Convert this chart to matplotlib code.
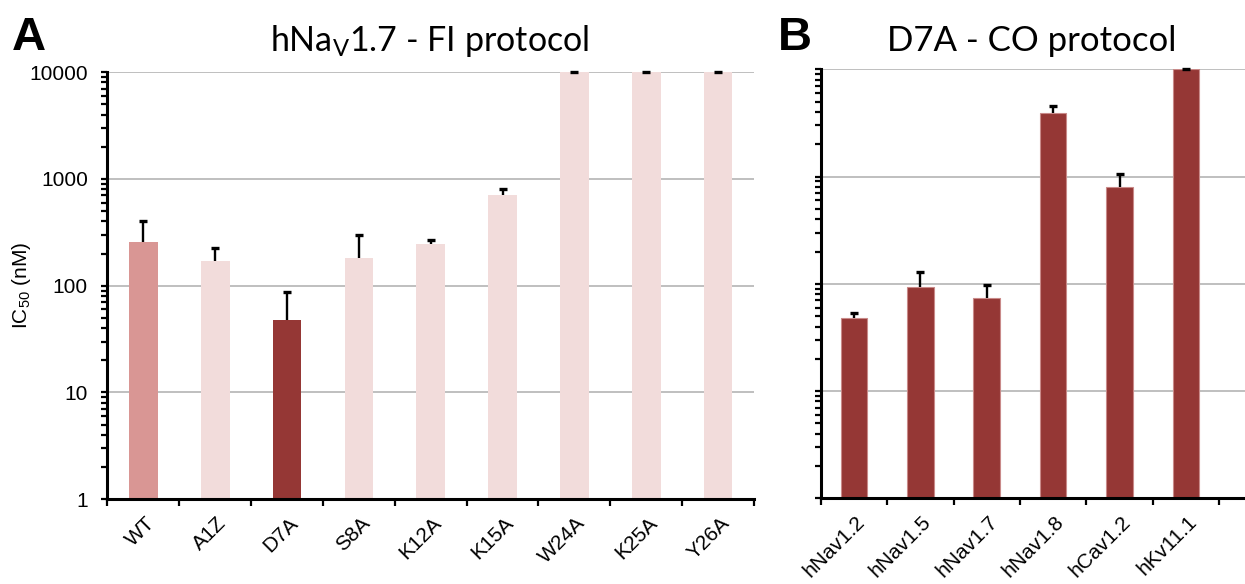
import numpy as np
import matplotlib
matplotlib.use("Agg")
import matplotlib.pyplot as plt
from matplotlib.ticker import LogLocator, NullFormatter, FixedLocator

# panel A: hNav1.7 FI protocol
mutants = ['WT', 'A1Z', 'D7A', 'S8A', 'K12A', 'K15A', 'W24A', 'K25A', 'Y26A']
ic50_a = [255, 170, 47.5, 180, 248, 707, 10000, 10000, 10000]
sd_a = [150, 53, 40, 117, 19, 93, 0, 0, 0]
colors_a = ['#D99694', '#F2DCDB', '#953735', '#F2DCDB', '#F2DCDB',
            '#F2DCDB', '#F2DCDB', '#F2DCDB', '#F2DCDB']

# panel B: D7A CO protocol
channels = ['hNav1.2', 'hNav1.5', 'hNav1.7', 'hNav1.8', 'hCav1.2', 'hKv11.1']
ic50_b = [48, 93, 73, 3955, 804, 10000]
sd_b = [5, 35, 25, 575, 251, 0]

plt.rcParams['mathtext.fontset'] = 'custom'
plt.rcParams['mathtext.rm'] = 'Lato'
plt.rcParams['mathtext.sf'] = 'Liberation Sans'
plt.rcParams['font.family'] = 'Liberation Sans'

fig = plt.figure(figsize=(12.45, 5.84), dpi=100)
ax_a = fig.add_axes([0.0863, 0.145, 0.5193, 0.7317])
ax_b = fig.add_axes([0.6592, 0.1467, 0.3408, 0.7346])


def style(ax, labels, n_show):
    ax.set_yscale('log')
    ax.set_ylim(1, 10000)
    ax.set_xlim(-0.5, n_show - 0.5)
    ax.grid(axis='y', which='major', color='#BFBFBF', linewidth=1.4)
    ax.set_axisbelow(True)
    for s in ['top', 'right']:
        ax.spines[s].set_visible(False)
    for s in ['left', 'bottom']:
        ax.spines[s].set_linewidth(2.2)
    ax.yaxis.set_minor_locator(LogLocator(base=10, subs=np.arange(2, 10)))
    ax.yaxis.set_minor_formatter(NullFormatter())
    ax.tick_params(axis='y', which='both', direction='out', length=4, width=1.6,
                   labelsize=15, pad=10)
    # boundaries get the ticks, labels hang from the bar centres
    ax.xaxis.set_major_locator(FixedLocator(np.arange(len(labels) + 1) - 0.5))
    ax.xaxis.set_minor_locator(FixedLocator(np.arange(len(labels)) + 0.02))
    ax.set_xticklabels([])
    ax.set_xticklabels(labels, minor=True, rotation=45, ha='right',
                       rotation_mode='anchor', fontsize=15)
    ax.tick_params(axis='x', which='major', direction='out', length=5, width=1.6)
    ax.tick_params(axis='x', which='minor', length=0, pad=10)


def upper_errors(ax, x, y, sd):
    _, caps, _ = ax.errorbar(x, y, yerr=[np.zeros(len(sd)), sd], fmt='none',
                             ecolor='black', elinewidth=1.7, capsize=3,
                             capthick=2.4, zorder=3, clip_on=False)
    caps[0].set_visible(False)  # only the upper whisker is shown


x_a = np.arange(len(mutants))
ax_a.bar(x_a, ic50_a, width=0.4, color=colors_a, zorder=2)
upper_errors(ax_a, x_a, ic50_a, sd_a)
style(ax_a, mutants, len(mutants))
ax_a.set_yticks([1, 10, 100, 1000, 10000])
ax_a.set_yticklabels(['1', '10', '100', '1000', '10000'])
ax_a.set_ylabel('IC$_\\mathsf{50}$ (nM)', fontsize=15)
ax_a.yaxis.set_label_coords(-0.115, 0.5)

x_b = np.arange(len(channels))
ax_b.bar(x_b, ic50_b, width=0.4, color='#953735', edgecolor='#C98A89',
         linewidth=0.8, zorder=2)
upper_errors(ax_b, x_b, ic50_b, sd_b)
style(ax_b, channels, 6.39)
ax_b.set_yticks([1, 10, 100, 1000, 10000])
ax_b.set_yticklabels([])

fig.text(0.0095, 0.935, 'A', fontsize=34, fontweight='bold', va='center')
fig.text(0.625, 0.935, 'B', fontsize=34, fontweight='bold', va='center')
fig.text(0.345, 0.93, 'hNa$_\\mathrm{V}$1.7 - FI protocol', fontsize=24.5,
         family='Lato', ha='center', va='center')
fig.text(0.829, 0.93, 'D7A - CO protocol', fontsize=25, family='Lato',
         ha='center', va='center')

fig.savefig('out.png', dpi=100)
